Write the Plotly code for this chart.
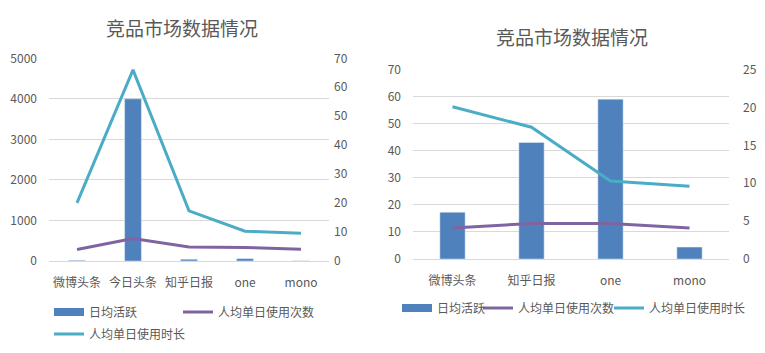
import plotly.graph_objects as go

# ---- data ----
title_text = "竞品市场数据情况"
series_names = ["日均活跃", "人均单日使用次数", "人均单日使用时长"]

cats_left = ["微博头条", "今日头条", "知乎日报", "one", "mono"]
dau_left = [17, 4000, 43, 59, 4.4]
times_left = [4.0, 7.8, 4.8, 4.7, 4.1]
dur_left = [20.1, 66, 17.3, 10.3, 9.6]

cats_right = ["微博头条", "知乎日报", "one", "mono"]
dau_right = [17.3, 43.1, 59.1, 4.4]
times_right = [4.1, 4.7, 4.7, 4.1]
dur_right = [20.1, 17.4, 10.3, 9.6]

left_ticks_l = [0, 1000, 2000, 3000, 4000, 5000]
right_ticks_l = [0, 10, 20, 30, 40, 50, 60, 70]
left_ticks_r = [0, 10, 20, 30, 40, 50, 60, 70]
right_ticks_r = [0, 5, 10, 15, 20, 25]

BAR = "#4F81BD"
PURPLE = "#8064A2"
TEAL = "#4BACC6"
TXT = "#595959"
GRID = "#D9D9D9"
FONT = "Noto Sans CJK SC"

W, H = 765, 353

def px_x(p):
    return p / W

def px_y(p):
    return 1 - p / H

fig = go.Figure()

# ---- left chart ----
fig.add_trace(go.Bar(x=cats_left, y=dau_left, name=series_names[0], marker_color=BAR,
                     width=0.3, xaxis="x", yaxis="y", showlegend=False))
fig.add_trace(go.Scatter(x=cats_left, y=times_left, name=series_names[1], mode="lines",
                         line=dict(color=PURPLE, width=3), xaxis="x", yaxis="y2", legend="legend2"))
fig.add_trace(go.Scatter(x=cats_left, y=dur_left, name=series_names[2], mode="lines",
                         line=dict(color=TEAL, width=3), xaxis="x", yaxis="y2", legend="legend3"))
# legend swatch for bar series (wide rectangle like the original)
fig.add_trace(go.Scatter(x=[cats_left[0]], y=[None], name=series_names[0], mode="lines",
                         line=dict(color=BAR, width=8), xaxis="x", yaxis="y", legend="legend"))

# ---- right chart ----
fig.add_trace(go.Bar(x=cats_right, y=dau_right, name=series_names[0], marker_color=BAR,
                     width=0.32, xaxis="x2", yaxis="y3", showlegend=False))
fig.add_trace(go.Scatter(x=cats_right, y=times_right, name=series_names[1], mode="lines",
                         line=dict(color=PURPLE, width=3), xaxis="x2", yaxis="y4", legend="legend5"))
fig.add_trace(go.Scatter(x=cats_right, y=dur_right, name=series_names[2], mode="lines",
                         line=dict(color=TEAL, width=3), xaxis="x2", yaxis="y4", legend="legend6"))
fig.add_trace(go.Scatter(x=[cats_right[0]], y=[None], name=series_names[0], mode="lines",
                         line=dict(color=BAR, width=8), xaxis="x2", yaxis="y3", legend="legend4"))

xdom1 = [px_x(49), px_x(329)]
ydom1 = [px_y(261), px_y(58.3)]
xdom2 = [px_x(413), px_x(729)]
ydom2 = [px_y(259), px_y(69.7)]

tickfont = dict(family=FONT, size=12, color=TXT)

def xaxis(dom, anchor, n):
    return dict(domain=dom, anchor=anchor, type="category", range=[-0.5, n - 0.5],
                showgrid=False, showline=True, linecolor=GRID, linewidth=1,
                ticks="", tickfont=tickfont, ticklabelstandoff=11, fixedrange=True)

def yaxis(dom, anchor, vals, side="left", overlay=None, grid=True, standoff=10):
    d = dict(domain=dom, anchor=anchor, range=[vals[0], vals[-1]], tickvals=vals,
             showgrid=grid, gridcolor=GRID, gridwidth=1, zeroline=False, showline=False,
             ticks="", tickfont=tickfont, side=side, ticklabelstandoff=standoff)
    if overlay:
        d["overlaying"] = overlay
    return d

def leg(text_x, row_y):
    return dict(orientation="h", x=px_x(text_x - 38), y=px_y(row_y), xanchor="left",
                yanchor="middle", font=dict(family=FONT, size=12, color=TXT),
                itemwidth=30, bgcolor="rgba(0,0,0,0)", borderwidth=0)

fig.update_layout(
    width=W, height=H,
    margin=dict(l=0, r=0, t=0, b=0, autoexpand=False),
    paper_bgcolor="white", plot_bgcolor="white",
    font=dict(family=FONT, size=12, color=TXT),
    showlegend=True,
    xaxis=xaxis(xdom1, "y", len(cats_left)),
    yaxis=yaxis(ydom1, "x", left_ticks_l, standoff=11),
    yaxis2=yaxis(ydom1, "x", right_ticks_l, side="right", overlay="y", grid=False, standoff=4),
    xaxis2=xaxis(xdom2, "y3", len(cats_right)),
    yaxis3=yaxis(ydom2, "x2", left_ticks_r, standoff=11),
    yaxis4=yaxis(ydom2, "x2", right_ticks_r, side="right", overlay="y3", grid=False, standoff=13),
    legend=leg(87, 312),
    legend2=leg(216, 312),
    legend3=leg(87, 334),
    legend4=leg(435, 308),
    legend5=leg(516, 308),
    legend6=leg(647, 308),
    annotations=[
        dict(text=title_text, x=px_x(182), y=px_y(27), xref="paper", yref="paper",
             showarrow=False, xanchor="center", yanchor="middle",
             font=dict(family=FONT, size=19, color=TXT)),
        dict(text=title_text, x=px_x(572), y=px_y(37), xref="paper", yref="paper",
             showarrow=False, xanchor="center", yanchor="middle",
             font=dict(family=FONT, size=19, color=TXT)),
    ],
)

fig.write_html("out.html")
